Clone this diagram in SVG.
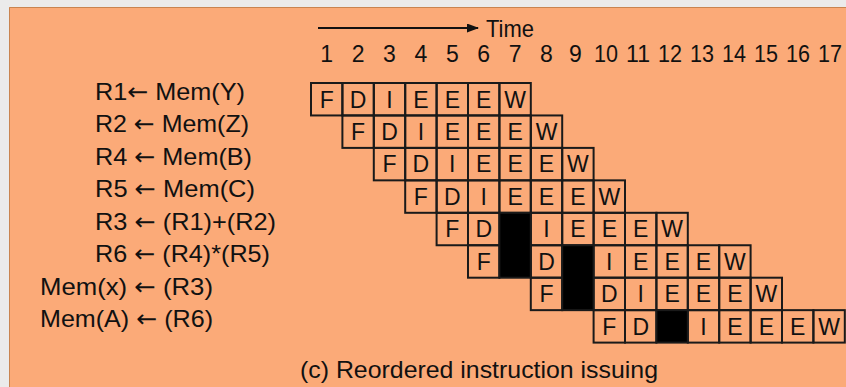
<svg xmlns="http://www.w3.org/2000/svg" width="846" height="387" viewBox="0 0 846 387">
<style>
.lbl{font-family:"Liberation Sans",Arial,sans-serif;font-size:24px;fill:#111}
.arr{font-family:"DejaVu Sans",sans-serif}
.num{font-family:"Liberation Sans",Arial,sans-serif;font-size:23px;fill:#111;text-anchor:middle}
.cell{fill:none;stroke:#1a1a1a;stroke-width:2}
.blk{fill:#000;stroke:#1a1a1a;stroke-width:2}
.ct{font-family:"Liberation Sans",Arial,sans-serif;font-size:23px;fill:#111;text-anchor:middle}
</style>
<defs>
<marker id="ah" markerWidth="12" markerHeight="9" refX="11" refY="4.5" orient="auto" markerUnits="userSpaceOnUse">
<path d="M0,0 L12,4.5 L0,9 Z" fill="#111"/>
</marker>
</defs>
<rect x="0" y="0" width="846" height="387" fill="#ebebeb"/>
<rect x="9" y="7" width="837" height="380" fill="#fbaa78"/>
<path d="M9.5,387 V7.5 H846" fill="none" stroke="#c98450" stroke-width="1"/>

<g id="time-axis">
<line x1="318" y1="28" x2="478" y2="28" stroke="#111" stroke-width="2" marker-end="url(#ah)"/>
<text class="lbl" x="486" y="37" font-size="22" textLength="48" lengthAdjust="spacingAndGlyphs">Time</text>
<g class="nums">
<text class="num" x="326.7" y="62">1</text>
<text class="num" x="358.1" y="62">2</text>
<text class="num" x="389.5" y="62">3</text>
<text class="num" x="420.9" y="62">4</text>
<text class="num" x="452.3" y="62">5</text>
<text class="num" x="483.7" y="62">6</text>
<text class="num" x="515.1" y="62">7</text>
<text class="num" x="546.5" y="62">8</text>
<text class="num" x="575.5" y="62">9</text>
<text class="num" x="606" y="62" textLength="24" lengthAdjust="spacingAndGlyphs">10</text>
<text class="num" x="638" y="62" textLength="24" lengthAdjust="spacingAndGlyphs">11</text>
<text class="num" x="670" y="62" textLength="24" lengthAdjust="spacingAndGlyphs">12</text>
<text class="num" x="702" y="62" textLength="24" lengthAdjust="spacingAndGlyphs">13</text>
<text class="num" x="734" y="62" textLength="24" lengthAdjust="spacingAndGlyphs">14</text>
<text class="num" x="766" y="62" textLength="24" lengthAdjust="spacingAndGlyphs">15</text>
<text class="num" x="798" y="62" textLength="24" lengthAdjust="spacingAndGlyphs">16</text>
<text class="num" x="830" y="62" textLength="24" lengthAdjust="spacingAndGlyphs">17</text>
</g>
</g>

<g id="labels">
<text class="lbl" x="95" y="100" textLength="150" lengthAdjust="spacingAndGlyphs">R1<tspan class="arr">←</tspan> Mem(Y)</text>
<text class="lbl" x="95" y="132.4" textLength="154" lengthAdjust="spacingAndGlyphs">R2 <tspan class="arr">←</tspan> Mem(Z)</text>
<text class="lbl" x="95" y="164.9" textLength="157" lengthAdjust="spacingAndGlyphs">R4 <tspan class="arr">←</tspan> Mem(B)</text>
<text class="lbl" x="95" y="197.3" textLength="160" lengthAdjust="spacingAndGlyphs">R5 <tspan class="arr">←</tspan> Mem(C)</text>
<text class="lbl" x="95" y="229.8" textLength="181" lengthAdjust="spacingAndGlyphs">R3 <tspan class="arr">←</tspan> (R1)+(R2)</text>
<text class="lbl" x="95" y="262.2" textLength="175" lengthAdjust="spacingAndGlyphs">R6 <tspan class="arr">←</tspan> (R4)*(R5)</text>
<text class="lbl" x="40" y="294.7" textLength="173" lengthAdjust="spacingAndGlyphs">Mem(x) <tspan class="arr">←</tspan> (R3)</text>
<text class="lbl" x="40" y="327.1" textLength="173" lengthAdjust="spacingAndGlyphs">Mem(A) <tspan class="arr">←</tspan> (R6)</text>
</g>

<g id="row1">
<rect class="cell" x="311" y="83" width="31.4" height="32.45"/><text class="ct" x="326.7" y="107.5">F</text>
<rect class="cell" x="342.4" y="83" width="31.4" height="32.45"/><text class="ct" x="358.1" y="107.5">D</text>
<rect class="cell" x="373.8" y="83" width="31.4" height="32.45"/><text class="ct" x="389.5" y="107.5">I</text>
<rect class="cell" x="405.2" y="83" width="31.4" height="32.45"/><text class="ct" x="420.9" y="107.5">E</text>
<rect class="cell" x="436.6" y="83" width="31.4" height="32.45"/><text class="ct" x="452.3" y="107.5">E</text>
<rect class="cell" x="468" y="83" width="31.4" height="32.45"/><text class="ct" x="483.7" y="107.5">E</text>
<rect class="cell" x="499.4" y="83" width="31.4" height="32.45"/><text class="ct" x="515.1" y="107.5">W</text>
</g>
<g id="row2">
<rect class="cell" x="342.4" y="115.45" width="31.4" height="32.45"/><text class="ct" x="358.1" y="139.95">F</text>
<rect class="cell" x="373.8" y="115.45" width="31.4" height="32.45"/><text class="ct" x="389.5" y="139.95">D</text>
<rect class="cell" x="405.2" y="115.45" width="31.4" height="32.45"/><text class="ct" x="420.9" y="139.95">I</text>
<rect class="cell" x="436.6" y="115.45" width="31.4" height="32.45"/><text class="ct" x="452.3" y="139.95">E</text>
<rect class="cell" x="468" y="115.45" width="31.4" height="32.45"/><text class="ct" x="483.7" y="139.95">E</text>
<rect class="cell" x="499.4" y="115.45" width="31.4" height="32.45"/><text class="ct" x="515.1" y="139.95">E</text>
<rect class="cell" x="530.8" y="115.45" width="31.4" height="32.45"/><text class="ct" x="546.5" y="139.95">W</text>
</g>
<g id="row3">
<rect class="cell" x="373.8" y="147.9" width="31.4" height="32.45"/><text class="ct" x="389.5" y="172.4">F</text>
<rect class="cell" x="405.2" y="147.9" width="31.4" height="32.45"/><text class="ct" x="420.9" y="172.4">D</text>
<rect class="cell" x="436.6" y="147.9" width="31.4" height="32.45"/><text class="ct" x="452.3" y="172.4">I</text>
<rect class="cell" x="468" y="147.9" width="31.4" height="32.45"/><text class="ct" x="483.7" y="172.4">E</text>
<rect class="cell" x="499.4" y="147.9" width="31.4" height="32.45"/><text class="ct" x="515.1" y="172.4">E</text>
<rect class="cell" x="530.8" y="147.9" width="31.4" height="32.45"/><text class="ct" x="546.5" y="172.4">E</text>
<rect class="cell" x="562.2" y="147.9" width="31.4" height="32.45"/><text class="ct" x="577.9" y="172.4">W</text>
</g>
<g id="row4">
<rect class="cell" x="405.2" y="180.35" width="31.4" height="32.45"/><text class="ct" x="420.9" y="204.85">F</text>
<rect class="cell" x="436.6" y="180.35" width="31.4" height="32.45"/><text class="ct" x="452.3" y="204.85">D</text>
<rect class="cell" x="468" y="180.35" width="31.4" height="32.45"/><text class="ct" x="483.7" y="204.85">I</text>
<rect class="cell" x="499.4" y="180.35" width="31.4" height="32.45"/><text class="ct" x="515.1" y="204.85">E</text>
<rect class="cell" x="530.8" y="180.35" width="31.4" height="32.45"/><text class="ct" x="546.5" y="204.85">E</text>
<rect class="cell" x="562.2" y="180.35" width="31.4" height="32.45"/><text class="ct" x="577.9" y="204.85">E</text>
<rect class="cell" x="593.6" y="180.35" width="31.4" height="32.45"/><text class="ct" x="609.3" y="204.85">W</text>
</g>
<g id="row5">
<rect class="cell" x="436.6" y="212.8" width="31.4" height="32.45"/><text class="ct" x="452.3" y="237.3">F</text>
<rect class="cell" x="468" y="212.8" width="31.4" height="32.45"/><text class="ct" x="483.7" y="237.3">D</text>
<rect class="cell" x="530.8" y="212.8" width="31.4" height="32.45"/><text class="ct" x="546.5" y="237.3">I</text>
<rect class="cell" x="562.2" y="212.8" width="31.4" height="32.45"/><text class="ct" x="577.9" y="237.3">E</text>
<rect class="cell" x="593.6" y="212.8" width="31.4" height="32.45"/><text class="ct" x="609.3" y="237.3">E</text>
<rect class="cell" x="625" y="212.8" width="31.4" height="32.45"/><text class="ct" x="640.7" y="237.3">E</text>
<rect class="cell" x="656.4" y="212.8" width="31.4" height="32.45"/><text class="ct" x="672.1" y="237.3">W</text>
</g>
<g id="row6">
<rect class="cell" x="468" y="245.25" width="31.4" height="32.45"/><text class="ct" x="483.7" y="269.75">F</text>
<rect class="cell" x="530.8" y="245.25" width="31.4" height="32.45"/><text class="ct" x="546.5" y="269.75">D</text>
<rect class="cell" x="593.6" y="245.25" width="31.4" height="32.45"/><text class="ct" x="609.3" y="269.75">I</text>
<rect class="cell" x="625" y="245.25" width="31.4" height="32.45"/><text class="ct" x="640.7" y="269.75">E</text>
<rect class="cell" x="656.4" y="245.25" width="31.4" height="32.45"/><text class="ct" x="672.1" y="269.75">E</text>
<rect class="cell" x="687.8" y="245.25" width="31.4" height="32.45"/><text class="ct" x="703.5" y="269.75">E</text>
<rect class="cell" x="719.2" y="245.25" width="31.4" height="32.45"/><text class="ct" x="734.9" y="269.75">W</text>
</g>
<g id="row7">
<rect class="cell" x="530.8" y="277.7" width="31.4" height="32.45"/><text class="ct" x="546.5" y="302.2">F</text>
<rect class="cell" x="593.6" y="277.7" width="31.4" height="32.45"/><text class="ct" x="609.3" y="302.2">D</text>
<rect class="cell" x="625" y="277.7" width="31.4" height="32.45"/><text class="ct" x="640.7" y="302.2">I</text>
<rect class="cell" x="656.4" y="277.7" width="31.4" height="32.45"/><text class="ct" x="672.1" y="302.2">E</text>
<rect class="cell" x="687.8" y="277.7" width="31.4" height="32.45"/><text class="ct" x="703.5" y="302.2">E</text>
<rect class="cell" x="719.2" y="277.7" width="31.4" height="32.45"/><text class="ct" x="734.9" y="302.2">E</text>
<rect class="cell" x="750.6" y="277.7" width="31.4" height="32.45"/><text class="ct" x="766.3" y="302.2">W</text>
</g>
<g id="row8">
<rect class="cell" x="593.6" y="310.15" width="31.4" height="32.45"/><text class="ct" x="609.3" y="334.65">F</text>
<rect class="cell" x="625" y="310.15" width="31.4" height="32.45"/><text class="ct" x="640.7" y="334.65">D</text>
<rect class="cell" x="687.8" y="310.15" width="31.4" height="32.45"/><text class="ct" x="703.5" y="334.65">I</text>
<rect class="cell" x="719.2" y="310.15" width="31.4" height="32.45"/><text class="ct" x="734.9" y="334.65">E</text>
<rect class="cell" x="750.6" y="310.15" width="31.4" height="32.45"/><text class="ct" x="766.3" y="334.65">E</text>
<rect class="cell" x="782" y="310.15" width="31.4" height="32.45"/><text class="ct" x="797.7" y="334.65">E</text>
<rect class="cell" x="813.4" y="310.15" width="31.4" height="32.45"/><text class="ct" x="829.1" y="334.65">W</text>
</g>
<g id="stalls">
<rect class="blk" x="499.4" y="212.8" width="31.4" height="64.9"/>
<rect class="blk" x="562.2" y="245.25" width="31.4" height="64.9"/>
<rect class="blk" x="656.4" y="310.15" width="31.4" height="32.45"/>
</g>

<text id="caption" class="lbl" x="300" y="378" textLength="358" lengthAdjust="spacingAndGlyphs">(c) Reordered instruction issuing</text>
</svg>
